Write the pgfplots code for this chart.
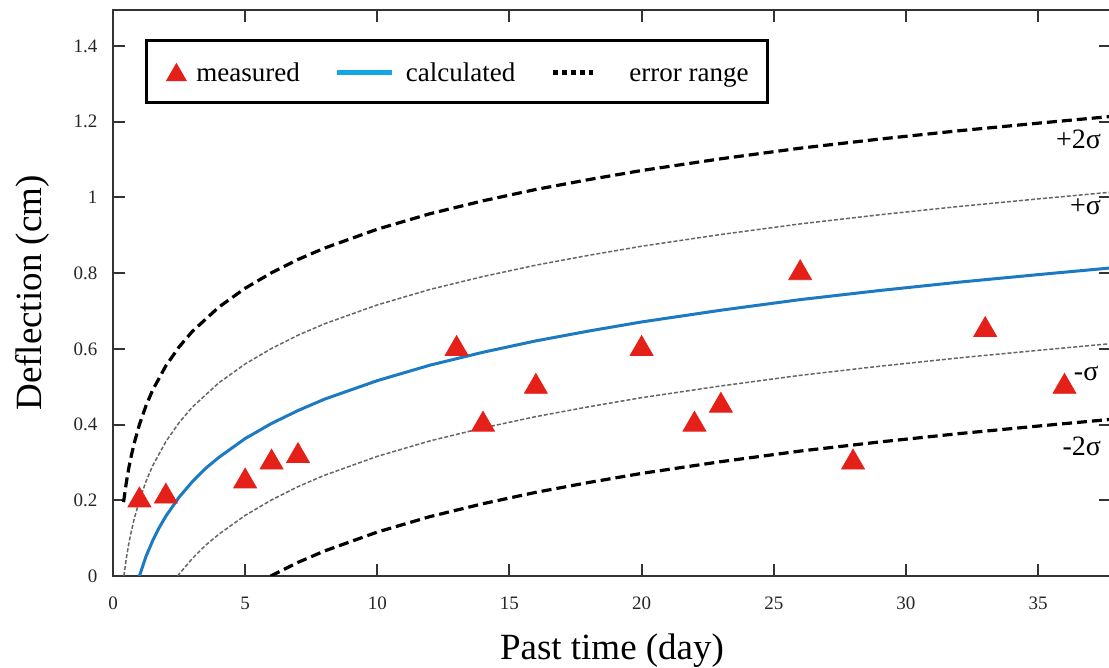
\documentclass[border=0pt]{standalone}
\usepackage{pgfplots}
\pgfplotsset{compat=1.18}
\usepackage{fontspec}
\setmainfont{Liberation Serif}

\definecolor{measred}{RGB}{228,32,24}
\definecolor{calcblue}{RGB}{27,122,194}
\definecolor{legblue}{RGB}{20,165,230}

\begin{document}
\begin{tikzpicture}
\begin{axis}[
    scale only axis,
    width=499pt, height=283pt,
    xmin=0, xmax=37.76,
    ymin=0, ymax=1.495,
    xtick={0,5,...,35},
    ytick={0,0.2,...,1.4},
    xtick pos=both, ytick pos=both,
    tick align=inside,
    major tick length=6pt,
    axis line style={line width=1pt, black!80},
    every tick/.style={line width=1pt, black!80},
    /pgf/number format/assume math mode=true,
    tick label style={font=\fontsize{9.5}{11}\selectfont, black!85},
    xticklabel style={yshift=-7pt},
    yticklabel style={xshift=-4.3pt},
    xlabel={Past time (day)},
    ylabel={Deflection (cm)},
    every axis x label/.style={at={(axis description cs:0.5,0)}, anchor=base, yshift=-42pt, font=\fontsize{18.5}{20}\selectfont},
    every axis y label/.style={at={(axis description cs:-0.0713,0.5)}, anchor=base, rotate=90, font=\fontsize{18.5}{20}\selectfont},
    legend columns=3,
    legend style={
        at={(axis description cs:0.032,0.949)}, anchor=north west,
        draw=black, line width=1.5pt,
        inner xsep=0pt, inner ysep=7.3pt,
        column sep=0pt,
        nodes={inner sep=0pt, text height=10pt, text depth=3pt, font=\fontsize{13.5}{15}\selectfont},
    },
]
% measured
\addplot[only marks, mark=triangle*, mark size=6.6pt, color=measred,
    legend image code/.code={
        \path[draw=none, fill=none] (0pt,-3pt) rectangle (25pt,10pt);
        \fill[measred] (15pt,0pt) ++(90:4.6pt) -- ++(-120:8pt) -- ++(0:8pt) -- cycle;
    }] coordinates {
    (1,0.20) (2,0.21) (5,0.25) (6,0.30) (7,0.317) (13,0.60) (14,0.40)
    (16,0.50) (20,0.60) (22,0.40) (23,0.45) (26,0.80) (28,0.30)
    (33,0.65) (36,0.50)
};
\addlegendentry{\makebox[69pt][l]{measured}}

% calculated
\addplot[color=calcblue, line width=1.5pt,
    legend image code/.code={
        \path[draw=none, fill=none] (0pt,-3pt) rectangle (34.5pt,10pt);
        \draw[legblue, line width=2.5pt, solid] (0pt,1pt) -- (27.5pt,1pt);
    }] coordinates {
    (1,0) (1.25,0.052) (1.5,0.093) (1.75,0.128) (2,0.158) (2.5,0.208)
    (3,0.249) (3.5,0.284) (4,0.313) (5,0.363) (6,0.403) (7,0.437)
    (8,0.467) (10,0.516) (12,0.557) (14,0.591) (16,0.621) (18,0.647)
    (20,0.671) (23,0.702) (26,0.730) (29,0.754) (32,0.776) (35,0.796)
    (37.8,0.814)
};
\addlegendentry{\makebox[72.5pt][l]{calculated}}

% +2 sigma
\addplot[black, line width=1.6pt, dash pattern=on 5pt off 2.5pt,
    legend image code/.code={
        \path[draw=none, fill=none] (0pt,-3pt) rectangle (38pt,10pt);
        \draw[black, line width=2.5pt, dash pattern=on 2.5pt off 1.9pt] (0pt,1pt) -- (20pt,1pt);
    }] coordinates {
    (0.4,0.195) (0.5,0.245) (0.6,0.286) (0.7,0.320) (0.8,0.350) (1,0.400)
    (1.25,0.450) (1.5,0.491) (2,0.555) (2.5,0.605) (3,0.646) (4,0.710)
    (5,0.760) (6,0.801) (7,0.836) (8,0.866) (10,0.916) (12,0.957)
    (14,0.991) (16,1.021) (18,1.047) (20,1.071) (23,1.102) (26,1.130)
    (29,1.154) (32,1.176) (35,1.196) (37.8,1.214)
};
\addlegendentry{\makebox[69pt][l]{error range}}

% +1 sigma
\addplot[black!60, line width=0.75pt, dash pattern=on 2pt off 1pt, forget plot] coordinates {
    (0.41,0) (0.5,0.045) (0.6,0.086) (0.7,0.120) (0.8,0.150) (1,0.200)
    (1.25,0.250) (1.5,0.291) (2,0.355) (2.5,0.405) (3,0.446) (4,0.510)
    (5,0.560) (6,0.601) (7,0.636) (8,0.666) (10,0.716) (12,0.757)
    (14,0.791) (16,0.821) (18,0.847) (20,0.871) (23,0.902) (26,0.930)
    (29,0.954) (32,0.976) (35,0.996) (37.8,1.014)
};

% -1 sigma
\addplot[black!60, line width=0.75pt, dash pattern=on 2pt off 1pt, forget plot] coordinates {
    (2.44,0) (2.5,0.005) (3,0.046) (3.5,0.081) (4,0.110) (5,0.160)
    (6,0.201) (7,0.236) (8,0.266) (10,0.316) (12,0.357) (14,0.391)
    (16,0.421) (18,0.447) (20,0.471) (23,0.502) (26,0.530) (29,0.554)
    (32,0.576) (35,0.596) (37.8,0.614)
};

% -2 sigma
\addplot[black, line width=1.6pt, dash pattern=on 5pt off 2.5pt, forget plot] coordinates {
    (5.96,0) (6,0.001) (7,0.036) (8,0.066) (10,0.116) (12,0.157)
    (14,0.191) (16,0.221) (18,0.247) (20,0.271) (23,0.302) (26,0.330)
    (29,0.354) (32,0.376) (35,0.396) (37.8,0.414)
};

\node[anchor=east, font=\fontsize{14}{16}\selectfont] at (axis cs:37.65,1.152) {+2σ};
\node[anchor=east, font=\fontsize{14}{16}\selectfont] at (axis cs:37.65,0.975) {+σ};
\node[anchor=east, font=\fontsize{14}{16}\selectfont] at (axis cs:37.55,0.536) {-σ};
\node[anchor=east, font=\fontsize{14}{16}\selectfont] at (axis cs:37.65,0.342) {-2σ};
\end{axis}
\pgfresetboundingbox
\path ([xshift=-56.5pt,yshift=-46pt]current axis.south west) rectangle ([xshift=-1pt,yshift=5pt]current axis.north east);
\end{tikzpicture}
\end{document}
